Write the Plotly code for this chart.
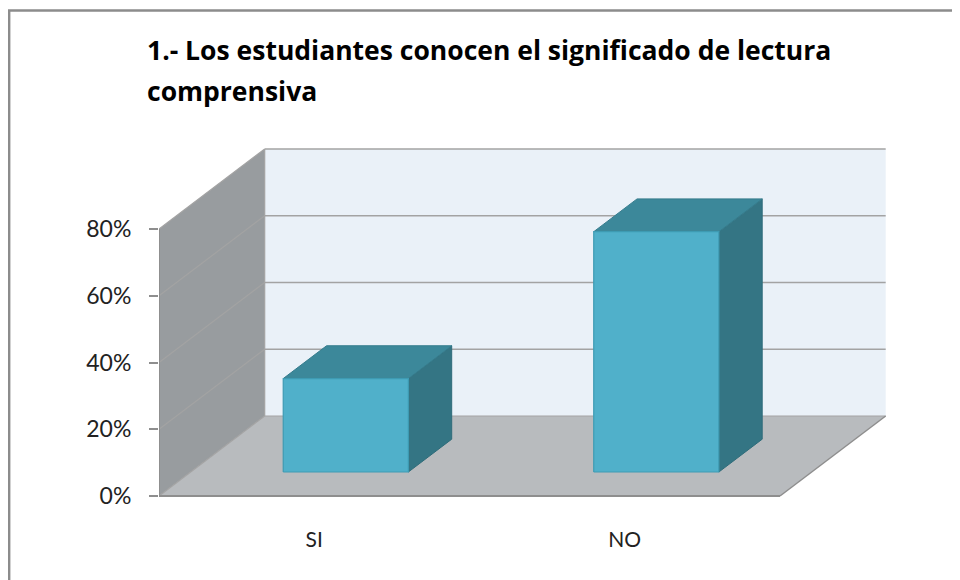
import plotly.graph_objects as go

# ---- data ----
categories = ["SI", "NO"]
values = [28, 72]                     # percent
y_ticks = [0, 20, 40, 60, 80]
y_tick_labels = ["0%", "20%", "40%", "60%", "80%"]
title_lines = ["1.- Los estudiantes conocen el significado de lectura", "comprensiva"]

# ---- 3D oblique projection parameters ----
DX, DY = 0.3404, 23.97          # full depth offset (category units, percent units)
WALL_TOP = 80
BAR_A, BAR_W = 0.298, 0.403     # bar start & width within category
D0, D1 = 0.30, 0.71             # bar depth span

def P(x, y, d):
    return x + d * DX, y + d * DY

def poly(pts, fill, line, width=1):
    xs = [p[0] for p in pts] + [pts[0][0]]
    ys = [p[1] for p in pts] + [pts[0][1]]
    return go.Scatter(x=xs, y=ys, mode="lines", fill="toself", fillcolor=fill,
                      line=dict(color=line, width=width), hoverinfo="skip", showlegend=False)

def seg(a, b, color, width=1.3):
    return go.Scatter(x=[a[0], b[0]], y=[a[1], b[1]], mode="lines",
                      line=dict(color=color, width=width), hoverinfo="skip", showlegend=False)

n = len(categories)
traces = []
# back wall
traces.append(poly([P(0, 0, 1), P(n, 0, 1), P(n, WALL_TOP, 1), P(0, WALL_TOP, 1)], "#EAF1F8", "rgba(0,0,0,0)", 0))
# side wall
traces.append(poly([P(0, 0, 0), P(0, 0, 1), P(0, WALL_TOP, 1), P(0, WALL_TOP, 0)], "#989C9F", "rgba(0,0,0,0)", 0))
# floor
traces.append(poly([P(0, 0, 0), P(n, 0, 0), P(n, 0, 1), P(0, 0, 1)], "#B8BBBE", "rgba(0,0,0,0)", 0))
# gridlines (back wall + side wall)
grid_col = "#A3A3A3"
for v in y_ticks[1:]:
    traces.append(seg(P(0, v, 1), P(n, v, 1), grid_col, 1.6))
    traces.append(seg(P(0, v, 0), P(0, v, 1), grid_col, 1.2))
# wall/floor edges
edge = "#8E8E8E"
traces.append(seg(P(0, 0, 1), P(0, WALL_TOP, 1), grid_col, 1.2))
traces.append(seg(P(0, 0, 0), P(0, 0, 1), grid_col, 1.2))
traces.append(seg(P(0, 0, 1), P(n, 0, 1), grid_col, 1.2))
traces.append(seg(P(0, 0, 0), P(n, 0, 0), edge, 1.8))
traces.append(seg(P(n, 0, 0), P(n, 0, 1), edge, 1.5))
traces.append(seg(P(0, 0, 0), P(0, WALL_TOP, 0), edge, 1.8))

# bars
for i, v in enumerate(values):
    x0 = i + BAR_A
    x1 = x0 + BAR_W
    front = [P(x0, 0, D0), P(x1, 0, D0), P(x1, v, D0), P(x0, v, D0)]
    top = [P(x0, v, D0), P(x1, v, D0), P(x1, v, D1), P(x0, v, D1)]
    side = [P(x1, 0, D0), P(x1, 0, D1), P(x1, v, D1), P(x1, v, D0)]
    traces.append(poly(side, "#347584", "#2F6C7A", 1))
    traces.append(poly(top, "#3C889A", "#357C8D", 1))
    traces.append(poly(front, "#50B0CA", "#3E9BB3", 1.2))

fig = go.Figure(traces)

OFF = 8  # page body margin
W, H = 960 - OFF, 580 - OFF
L = 159 - OFF
T = 140 - OFF
B = H - (500 - OFF)
R = W - (890 - OFF)
pw, ph = W - L - R, H - T - B
x_range = [0, pw / 310.5]
y_range = [-(500 - 496) / 3.3375, (496 - 140) / 3.3375]

def paper_x(px):  # px in page coordinates
    return (px - OFF - L) / pw

def paper_y(py):
    return (H - B - (py - OFF)) / ph

title_font = dict(family="Open Sans", size=26.5, weight="bold", color="#000000")

fig.update_layout(
    width=W, height=H,
    margin=dict(l=L, r=R, t=T, b=B),
    paper_bgcolor="white", plot_bgcolor="white",
    showlegend=False,
    xaxis=dict(range=x_range, showgrid=False, zeroline=False, showline=False,
               tickvals=[i + 0.5 for i in range(n)], ticktext=categories,
               ticks="", ticklabelstandoff=25,
               tickfont=dict(family="Lato", size=21, color="#222222"), fixedrange=True),
    yaxis=dict(range=y_range, showgrid=False, zeroline=False, showline=False,
               tickvals=y_ticks, ticktext=y_tick_labels, ticks="outside", ticklen=9,
               tickcolor="#8E8E8E", tickwidth=1.8, ticklabelstandoff=13,
               tickfont=dict(family="Lato", size=23, color="#222222"), fixedrange=True),
    shapes=[dict(type="rect", xref="paper", yref="paper",
                 x0=paper_x(OFF + 1.2), x1=paper_x(1000), y0=paper_y(10.5), y1=paper_y(700),
                 line=dict(color="#8C8C8C", width=2.4), fillcolor="rgba(0,0,0,0)", layer="above")],
    annotations=[
        dict(text=title_lines[0], xref="paper", yref="paper", x=paper_x(145), y=paper_y(50),
             xanchor="left", yanchor="middle", showarrow=False, font=title_font),
        dict(text=title_lines[1], xref="paper", yref="paper", x=paper_x(145), y=paper_y(91),
             xanchor="left", yanchor="middle", showarrow=False, font=title_font),
    ],
)

fig.write_html("out.html")
